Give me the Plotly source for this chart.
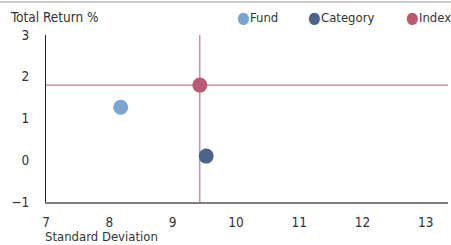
import plotly.graph_objects as go

series = ["Fund", "Category", "Index"]
std_dev = [8.18, 9.53, 9.43]
total_return = [1.27, 0.10, 1.80]
colors = ["#7ca4d2", "#4b6386", "#b85a73"]

x_ticks = [7, 8, 9, 10, 11, 12, 13]
y_ticks = [-1, 0, 1, 2, 3]
x_range = [7, 13.35]
y_range = [-1, 3]

FONT = "DejaVu Sans Condensed, DejaVu Sans, sans-serif"
FS = 13.5
TXT = "#333333"

W, H = 451, 245
ML, MR, MT, MB = 46, 3, 35, 43
PW, PH = W - ML - MR, H - MT - MB


def px_x(p):
    return (p - ML) / PW


def px_y(p):
    return (H - MB - p) / PH


fig = go.Figure()
for name, xv, yv, c in zip(series, std_dev, total_return, colors):
    fig.add_trace(go.Scatter(x=[xv], y=[yv], mode="markers", name=name,
                             marker=dict(size=15, color=c), cliponaxis=False,
                             showlegend=False))

idx = series.index("Index")
line_col = colors[idx]
shapes = [
    dict(type="line", xref="x", yref="y", x0=std_dev[idx], x1=std_dev[idx],
         y0=y_range[0], y1=y_range[1], line=dict(color=line_col, width=1), layer="below"),
    dict(type="line", xref="x", yref="y", x0=x_range[0], x1=x_range[1],
         y0=total_return[idx], y1=total_return[idx], line=dict(color=line_col, width=1), layer="below"),
    dict(type="line", xref="paper", yref="paper", x0=px_x(0), x1=px_x(W), y0=px_y(2), y1=px_y(2),
         line=dict(color="#9a9a9a", width=1)),
]
for t in y_ticks:
    shapes.append(dict(type="rect", xref="x", yref="y", xsizemode="pixel", ysizemode="pixel",
                       xanchor=x_range[0], yanchor=t, x0=-9, x1=-6, y0=-1.5, y1=1.5,
                       fillcolor="black", line=dict(width=0)))
for t in x_ticks:
    shapes.append(dict(type="rect", xref="x", yref="y", xsizemode="pixel", ysizemode="pixel",
                       xanchor=t, yanchor=y_range[0], x0=-1.5, x1=1.5, y0=-5, y1=-8,
                       fillcolor="black", line=dict(width=0)))

# legend built from the series (dot + label)
legend_dot_px = [243, 314, 412]
annotations = [
    dict(text="Total Return %", xref="paper", yref="paper", x=px_x(8), y=px_y(17),
         xanchor="left", yanchor="middle", showarrow=False,
         font=dict(size=FS, color=TXT)),
    dict(text="Standard Deviation", xref="paper", yref="paper", x=px_x(44), y=px_y(236),
         xanchor="left", yanchor="middle", showarrow=False, borderpad=0,
         font=dict(size=13, color=TXT)),
]
for name, c, p in zip(series, colors, legend_dot_px):
    annotations.append(dict(text="●", xref="paper", yref="paper", x=px_x(p), y=px_y(17),
                            xanchor="center", yanchor="middle", showarrow=False,
                            font=dict(size=16, color=c)))
    annotations.append(dict(text=name, xref="paper", yref="paper", x=px_x(p + 5), y=px_y(17),
                            xanchor="left", yanchor="middle", showarrow=False,
                            font=dict(size=13, color=TXT)))

fig.update_layout(
    width=W, height=H,
    margin=dict(l=ML, r=MR, t=MT, b=MB, pad=0, autoexpand=False),
    paper_bgcolor="white", plot_bgcolor="white",
    font=dict(family=FONT, size=FS, color=TXT),
    showlegend=False,
    xaxis=dict(range=x_range, tickvals=x_ticks, ticks="", showgrid=False, zeroline=False,
               showline=True, linecolor="#7f7f7f", linewidth=2, ticklabelstandoff=7,
               automargin=False, title=dict(text="")),
    yaxis=dict(range=y_range, tickvals=y_ticks, ticks="", showgrid=False, zeroline=False,
               showline=True, linecolor="#222222", linewidth=1, ticklabelstandoff=13,
               automargin=False, title=dict(text="")),
    shapes=shapes,
    annotations=annotations,
)

fig.write_html("out.html", config={"displayModeBar": False},
               post_script="document.body.style.margin='0px';")
